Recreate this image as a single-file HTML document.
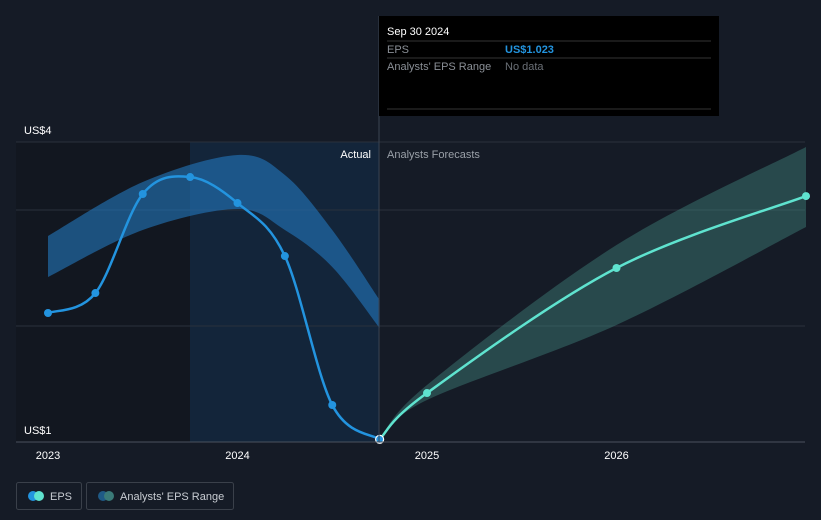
<!DOCTYPE html>
<html><head><meta charset="utf-8"><style>
body{margin:0;background:#151b26;font-family:"Liberation Sans",sans-serif;}
svg{display:block}
</style></head><body>
<svg id="chart" width="821" height="520" xmlns="http://www.w3.org/2000/svg">
<rect width="821" height="520" fill="#151b26"/>
<rect x="16" y="142" width="174" height="300" fill="#121720"/>
<rect x="190" y="142" width="189" height="300" fill="#13253a"/>
<g id="grid"></g>
<g id="bands"></g>
<g id="lines"></g>
<g id="axis"></g>
<text x="371" y="158" fill="#ffffff" font-size="11" text-anchor="end">Actual</text>
<text x="387" y="158" fill="#9aa0a8" font-size="11">Analysts Forecasts</text>
<line x1="379" y1="16" x2="379" y2="442" stroke="#3a4453" stroke-width="1"/>
<g>
<rect x="379" y="16" width="340" height="100" fill="#000"/>
<text x="387" y="35" fill="#fff" font-size="11">Sep 30 2024</text>
<line x1="387" y1="41" x2="711" y2="41" stroke="#333"/>
<text x="387" y="53" fill="#8a8f96" font-size="11">EPS</text>
<text x="505" y="53" fill="#2394df" font-size="11" font-weight="bold">US$1.023</text>
<line x1="387" y1="58" x2="711" y2="58" stroke="#333"/>
<text x="387" y="70" fill="#8a8f96" font-size="11">Analysts' EPS Range</text>
<text x="505" y="70" fill="#6b7077" font-size="11">No data</text>
<line x1="387" y1="109" x2="711" y2="109" stroke="#333"/>
</g>
<g>
<rect x="16.5" y="482.5" width="65" height="27" rx="2" fill="none" stroke="#3a404a"/>
<circle cx="33" cy="496" r="5" fill="#2394df"/><circle cx="39" cy="496" r="5" fill="#5fe3cf"/>
<text x="50" y="500" fill="#c8ccd2" font-size="11">EPS</text>
</g>
<g>
<rect x="86.5" y="482.5" width="147" height="27" rx="2" fill="none" stroke="#3a404a"/>
<circle cx="103" cy="496" r="5" fill="#1f5a86"/><circle cx="109" cy="496" r="5" fill="#3a7a78"/>
<text x="120" y="500" fill="#c8ccd2" font-size="11">Analysts' EPS Range</text>
</g>
</svg>
<script>
const pastDates=[2023,2023.25,2023.5,2023.75,2024,2024.25,2024.5,2024.75];
const pastEps=[2.112,2.284,3.138,3.284,3.06,2.603,1.319,1.023];
const bandDates=[2023,2023.5,2024,2024.25,2024.5,2024.75];
const pastUpper=[2.776,3.241,3.474,3.302,2.828,2.224];
const pastLower=[2.422,2.828,3.009,2.828,2.509,1.983];
const fcDates=[2024.75,2025,2026,2027];
const fcEps=[1.023,1.422,2.5,3.12];
const fcUpper=[1.023,1.491,2.698,3.543];
const fcLower=[1.023,1.362,2.009,2.853];
const yTicks=[1,2,3,4];
const yLabels=["US$1","US$4"];
const yLabelVals=[1,4];
const xTicks=[2023,2024,2025,2026];

const X=d=>48+(d-2023)*189.5;
const Y=v=>442-(v-1)*116;
const NS="http://www.w3.org/2000/svg";
function mk(t,a,p){const e=document.createElementNS(NS,t);for(const k in a)e.setAttribute(k,a[k]);p.appendChild(e);return e;}
function curve(pts,move){let s=move?`M${pts[0][0]},${pts[0][1]}`:`L${pts[0][0]},${pts[0][1]}`;
for(let i=0;i<pts.length-1;i++){const p0=pts[i-1]||pts[i],p1=pts[i],p2=pts[i+1],p3=pts[i+2]||p2;
s+=`C${p1[0]+(p2[0]-p0[0])/6},${p1[1]+(p2[1]-p0[1])/6} ${p2[0]-(p3[0]-p1[0])/6},${p2[1]-(p3[1]-p1[1])/6} ${p2[0]},${p2[1]}`;}return s;}
const grid=document.getElementById('grid');
yTicks.forEach(v=>{const y=v===4?142:Y(v);if(v===1)return;
const l=mk('line',{x1:16,x2:805,y1:y,y2:y,stroke:'#2a313c'},grid);

});
const bands=document.getElementById('bands');
function band(ds,up,lo,fill,name){const u=ds.map((d,i)=>[X(d),Y(up[i])]);const l=ds.map((d,i)=>[X(d),Y(lo[i])]).reverse();
const p=mk('path',{d:curve(u,true)+curve(l,false)+'Z',fill:fill},bands);

}
band(bandDates,pastUpper,pastLower,'rgba(35,120,190,0.6)','past-eps-range');
band(fcDates,fcUpper,fcLower,'rgba(70,150,140,0.38)','forecast-eps-range');
const lines=document.getElementById('lines');
const pp=pastDates.map((d,i)=>[X(d),Y(pastEps[i])]);
const fp=fcDates.map((d,i)=>[X(d),Y(fcEps[i])]);
let l1=mk('path',{d:curve(fp,true),fill:'none',stroke:'#5fe3cf','stroke-width':2.5},lines);


let l2=mk('path',{d:curve(pp,true),fill:'none',stroke:'#2394df','stroke-width':2.5},lines);


fp.slice(1).forEach(p=>{const c=mk('circle',{cx:p[0],cy:p[1],r:4,fill:'#5fe3cf'},lines);

});
pp.forEach((p,i)=>{const last=i===pp.length-1;const c=mk('circle',{cx:p[0],cy:p[1],r:4,fill:'#2394df',stroke:last?'#fff':'none','stroke-width':1.2},lines);

});
const ax=document.getElementById('axis');
const base=mk('line',{x1:16,x2:805,y1:442,y2:442,stroke:'#4a525e'},ax);


yLabels.forEach((t,i)=>{const y=yLabelVals[i]===4?134:Y(yLabelVals[i])-8;
const e=mk('text',{x:24,y:y,fill:'#fff','font-size':11},ax);e.textContent=t;

});
xTicks.forEach(d=>{const e=mk('text',{x:X(d),y:459,fill:'#fff','font-size':11,'text-anchor':'middle'},ax);e.textContent=d;

});
</script>
</body></html>
